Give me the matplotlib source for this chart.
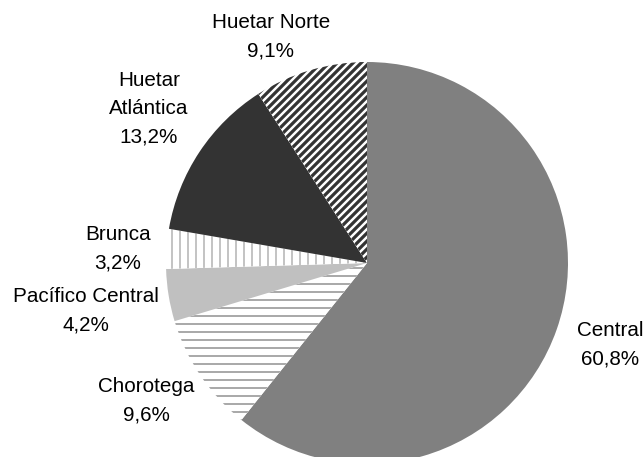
import matplotlib
matplotlib.use("Agg")
import matplotlib.pyplot as plt

# share of each region, clockwise from 12 o'clock
regions = ["Central", "Chorotega", "Pacífico Central", "Brunca",
           "Huetar Atlántica", "Huetar Norte"]
shares = [60.8, 9.6, 4.2, 3.2, 13.2, 9.1]
label_text = ["Central\n60,8%", "Chorotega\n9,6%", "Pacífico Central\n4,2%",
              "Brunca\n3,2%", "Huetar\nAtlántica\n13,2%", "Huetar Norte\n9,1%"]

# look of each wedge: (face, hatch, hatch colour, hatch width)
styles = [("#808080", None, None, 0),
          ("white", "--", "#8c8c8c", 1.1),
          ("#c0c0c0", None, None, 0),
          ("white", "||", "#c4c4c4", 1.5),
          ("#333333", None, None, 0),
          ("white", "////", "#333333", 2.4)]

# label block centres in pixels (x, y from top)
label_pos = [(610, 345), (146, 401), (86, 311), (118, 249), (149, 109), (271, 37)]

W, H, DPI = 644, 457, 96
fig = plt.figure(figsize=(W / DPI, H / DPI), dpi=DPI)
ax = fig.add_axes([0, 0, 1, 1])

wedges, _ = ax.pie(shares, startangle=90, counterclock=False,
                   center=(367, H - 263), radius=201)
for w, (face, hatch, hc, hw) in zip(wedges, styles):
    w.set_facecolor(face)
    w.set_linewidth(0)
    if hatch:
        w.set_edgecolor(hc)
        w.set_hatch(hatch)
        if hasattr(w, "set_hatch_linewidth"):
            w.set_hatch_linewidth(hw)

for txt, (x, y) in zip(label_text, label_pos):
    ax.text(x, H - y, txt, ha="center", va="center", fontsize=15.5,
            family=["Liberation Sans", "DejaVu Sans"], color="black",
            linespacing=1.6)

ax.set_xlim(0, W)
ax.set_ylim(0, H)
ax.set_aspect("equal")
ax.axis("off")
fig.savefig("out.png", dpi=DPI, facecolor="white")
